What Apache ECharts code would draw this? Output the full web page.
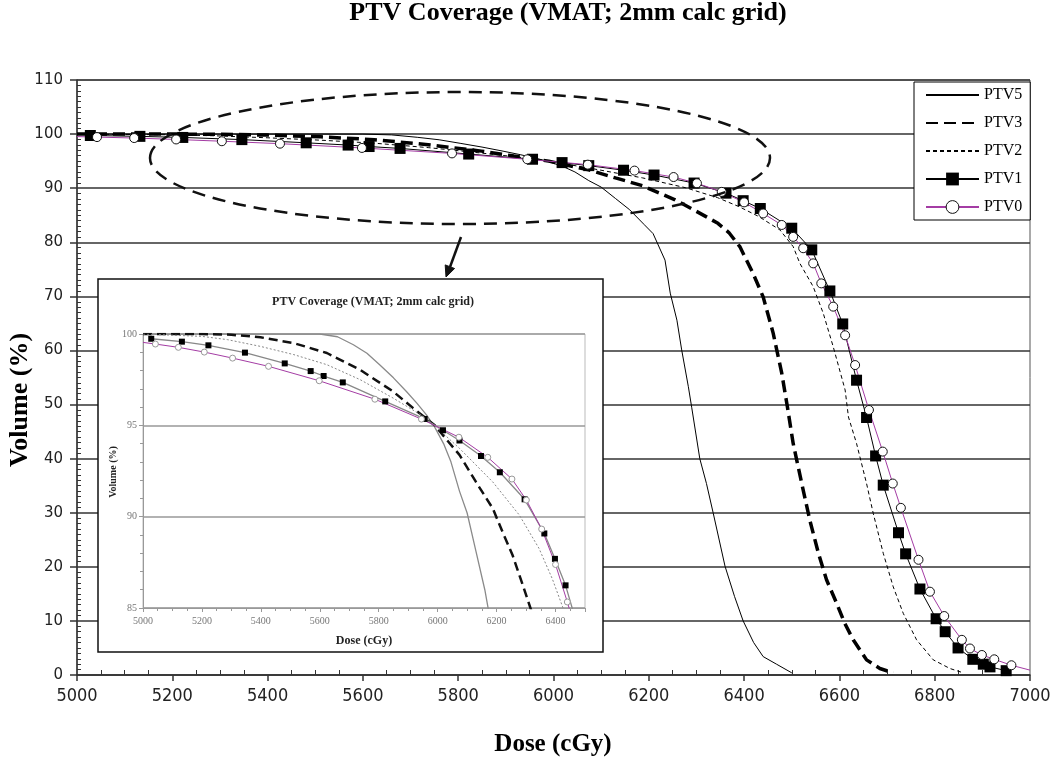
<!DOCTYPE html>
<html>
<head>
<meta charset="utf-8">
<script src="https://cdn.jsdelivr.net/npm/echarts@6/dist/echarts.min.js"></script>
<style>html,body{margin:0;padding:0;background:#fff}#c{width:1050px;height:759px}</style>
</head>
<body>
<div id="c"></div>
<script>
// ---------- data ----------
const xTicks = [5000, 5200, 5400, 5600, 5800, 6000, 6200, 6400, 6600, 6800, 7000];
const yTicks = [0, 10, 20, 30, 40, 50, 60, 70, 80, 90, 100, 110];
const insetXTicks = [5000, 5200, 5400, 5600, 5800, 6000, 6200, 6400];
const insetYTicks = [85, 90, 95, 100];
const seriesNames = ['PTV5', 'PTV3', 'PTV2', 'PTV1', 'PTV0'];

const ptv5Dose = [5000, 5300, 5600, 5660, 5714, 5760, 5804, 5850, 5894, 5930, 5962, 5990, 6020, 6045, 6074, 6100, 6130, 6160, 6190, 6209, 6234, 6245, 6259, 6269, 6283, 6290, 6307, 6321, 6335, 6360, 6380, 6398, 6420, 6440, 6468, 6500];
const ptv5Vol  = [100, 100, 100, 99.85, 99.41, 98.95, 98.3, 97.6, 96.85, 96.2, 95.57, 94.9, 94.0, 93.0, 91.4, 90.2, 88.1, 86.0, 83.3, 81.6, 76.7, 70.6, 65.6, 60.1, 53.3, 49.5, 40.0, 35.4, 30.0, 20.1, 14.5, 10.0, 6.0, 3.4, 2.0, 0.4];

const ptv3Dose = [5000, 5200, 5300, 5399, 5512, 5624, 5737, 5849, 5917, 5990, 6074, 6130, 6187, 6220, 6254, 6290, 6321, 6345, 6368, 6391, 6419, 6440, 6461, 6479, 6491, 6503, 6521, 6538, 6556, 6573, 6594, 6611, 6629, 6657, 6685, 6713];
const ptv3Vol  = [100, 100, 99.96, 99.82, 99.5, 98.96, 98.04, 96.85, 95.94, 95.0, 93.38, 91.9, 90.45, 89.17, 87.9, 86.2, 84.7, 83.5, 81.8, 79.2, 74.2, 69.9, 63.2, 55.8, 49.5, 42.8, 35.4, 28.6, 22.5, 17.6, 13.3, 9.6, 6.5, 2.8, 1.2, 0.4];

const ptv2Dose = [5000, 5200, 5287, 5399, 5512, 5624, 5737, 5849, 5962, 6074, 6187, 6277, 6344, 6389, 6430, 6475, 6503, 6517, 6545, 6566, 6587, 6612, 6619, 6636, 6657, 6671, 6692, 6713, 6734, 6762, 6797, 6832, 6860];
const ptv2Vol  = [100, 99.87, 99.69, 99.32, 98.87, 98.32, 97.5, 96.49, 95.39, 93.74, 91.9, 90.09, 88.26, 86.6, 84.8, 82.3, 79.2, 76.1, 71.8, 66.9, 60.7, 52.7, 47.7, 42.8, 35.4, 29.9, 22.5, 16.3, 11.4, 6.5, 2.8, 1.2, 0.4];

const ptv1Dose = [5028, 5132, 5222, 5346, 5481, 5569, 5613, 5678, 5822, 5956, 6018, 6074, 6147, 6211, 6295, 6362, 6398, 6434, 6500, 6542, 6580, 6607, 6636, 6657, 6676, 6692, 6724, 6739, 6769, 6803, 6822, 6849, 6880, 6902, 6916, 6950];
const ptv1Vol  = [99.74, 99.58, 99.38, 98.98, 98.39, 97.97, 97.70, 97.35, 96.31, 95.35, 94.73, 94.17, 93.32, 92.43, 90.95, 89.08, 87.69, 86.24, 82.6, 78.6, 71.0, 64.9, 54.5, 47.6, 40.5, 35.1, 26.3, 22.4, 15.9, 10.4, 8.0, 5.0, 2.9, 2.0, 1.5, 0.8];

const ptv0Dose = [5000, 5042, 5120, 5208, 5304, 5426, 5598, 5787, 5945, 6072, 6170, 6252, 6301, 6353, 6400, 6440, 6479, 6503, 6524, 6545, 6562, 6587, 6612, 6633, 6662, 6691, 6712, 6729, 6766, 6790, 6820, 6857, 6874, 6899, 6925, 6961, 7000];
const ptv0Vol  = [99.54, 99.45, 99.27, 99.01, 98.68, 98.23, 97.44, 96.43, 95.34, 94.35, 93.25, 92.06, 90.91, 89.32, 87.38, 85.33, 83.2, 81.0, 78.9, 76.1, 72.4, 68.1, 62.8, 57.3, 49.0, 41.3, 35.4, 30.9, 21.3, 15.4, 10.9, 6.5, 4.9, 3.7, 2.9, 1.8, 0.9];

// ---------- build ----------
const X_MIN = xTicks[0], X_MAX = xTicks[xTicks.length - 1];
function pts(d, v, bareEnds) {
  return d.map((x, i) => {
    const p = { value: [x, v[i]] };
    if (bareEnds && (x <= X_MIN || x >= X_MAX)) p.symbol = 'none';
    return p;
  });
}
const serif = 'Liberation Serif';
const narrow = "'Liberation Sans Narrow', 'DejaVu Sans Condensed', 'Liberation Sans', sans-serif";
const PURPLE = '#a43ca4';

const mainSeries = [
  { name: 'PTV5', data: pts(ptv5Dose, ptv5Vol), symbol: 'none',
    lineStyle: { color: '#000', width: 1 }, itemStyle: { color: '#000' } },
  { name: 'PTV3', data: pts(ptv3Dose, ptv3Vol), symbol: 'none',
    lineStyle: { color: '#000', width: 3.5, type: [12, 6] }, itemStyle: { color: '#000' } },
  { name: 'PTV2', data: pts(ptv2Dose, ptv2Vol), symbol: 'none',
    lineStyle: { color: '#000', width: 1, type: [4, 3] }, itemStyle: { color: '#000' } },
  { name: 'PTV1', data: pts(ptv1Dose, ptv1Vol), symbol: 'rect', symbolSize: 11,
    lineStyle: { color: '#000', width: 1 }, itemStyle: { color: '#000' } },
  { name: 'PTV0', data: pts(ptv0Dose, ptv0Vol, true), symbol: 'circle', symbolSize: 9,
    lineStyle: { color: PURPLE, width: 1 }, itemStyle: { color: '#fff', borderColor: '#111', borderWidth: 1 } }
].map(s => Object.assign({ type: 'line', xAxisIndex: 0, yAxisIndex: 0, z: 3, clip: true }, s));

const insetSeries = [
  { name: 'PTV5', data: pts(ptv5Dose, ptv5Vol), symbol: 'none',
    lineStyle: { color: '#8a8a8a', width: 1.3 } },
  { name: 'PTV3', data: pts(ptv3Dose, ptv3Vol), symbol: 'none',
    lineStyle: { color: '#111', width: 2.5, type: [9, 5] } },
  { name: 'PTV2', data: pts(ptv2Dose, ptv2Vol), symbol: 'none',
    lineStyle: { color: '#888', width: 1, type: [2, 2] } },
  { name: 'PTV1', data: pts(ptv1Dose, ptv1Vol), symbol: 'rect', symbolSize: 6,
    lineStyle: { color: '#888', width: 1.3 }, itemStyle: { color: '#000' } },
  { name: 'PTV0', data: pts(ptv0Dose, ptv0Vol, true), symbol: 'circle', symbolSize: 6,
    lineStyle: { color: PURPLE, width: 1 }, itemStyle: { color: '#fff', borderColor: '#999', borderWidth: 1 } }
].map(s => Object.assign({ type: 'line', xAxisIndex: 1, yAxisIndex: 1, z: 8, clip: true, legendHoverLink: false }, s));

const legendData = seriesNames.map(n => {
  if (n === 'PTV1') return { name: n, itemStyle: { color: '#000' } };
  if (n === 'PTV0') return { name: n, itemStyle: { color: '#fff', borderColor: '#111', borderWidth: 1 } };
  return { name: n, itemStyle: { opacity: 0 } };
});

const option = {
  animation: false,
  backgroundColor: '#fff',
  legend: {
    orient: 'vertical', left: 914, top: 82,
    itemWidth: 53, itemHeight: 16, itemGap: 12, itemTextGap: 3,
    padding: [5, 8, 5, 11],
    borderColor: '#000', borderWidth: 1, backgroundColor: '#fff',
    textStyle: { fontFamily: serif, fontSize: 16, color: '#000', lineHeight: 16 },
    data: legendData, z: 12
  },
  grid: [
    { left: 77, right: 20, top: 80, bottom: 84, show: true, borderColor: '#555', borderWidth: 1,
      backgroundColor: 'transparent', outerBoundsMode: 'none', containLabel: false },
    { left: 143, right: 465, top: 334, bottom: 151, show: true, borderColor: '#bbb', borderWidth: 1,
      backgroundColor: 'transparent', z: 6, outerBoundsMode: 'none', containLabel: false }
  ],
  xAxis: [
    { type: 'value', gridIndex: 0, min: X_MIN, max: X_MAX, interval: xTicks[1] - xTicks[0],
      axisLine: { onZero: false, lineStyle: { color: '#333', width: 1.5 } },
      axisTick: { length: 6, lineStyle: { color: '#333', width: 1.5 } },
      minorTick: { show: true, splitNumber: 4, length: -5, lineStyle: { color: '#333', width: 1 } },
      axisLabel: { fontFamily: narrow, fontSize: 18, color: '#222', margin: 12,
        formatter: v => xTicks.includes(v) ? String(v) : '' },
      splitLine: { show: false } },
    { type: 'value', gridIndex: 1, min: insetXTicks[0], max: 6500, interval: insetXTicks[1] - insetXTicks[0], z: 7,
      axisLine: { onZero: false, lineStyle: { color: '#999', width: 1 } },
      axisTick: { length: 4, lineStyle: { color: '#999' } },
      minorTick: { show: true, splitNumber: 4, length: 3, lineStyle: { color: '#999' } },
      axisLabel: { fontFamily: serif, fontSize: 10, color: '#777', margin: 8, showMaxLabel: false,
        formatter: v => insetXTicks.includes(v) ? String(v) : '' },
      splitLine: { show: false } }
  ],
  yAxis: [
    { type: 'value', gridIndex: 0, min: yTicks[0], max: yTicks[yTicks.length - 1], interval: yTicks[1] - yTicks[0],
      axisLine: { show: true, onZero: false, lineStyle: { color: '#333', width: 1.5 } },
      axisTick: { show: true, length: 7, lineStyle: { color: '#333', width: 1.5 } },
      minorTick: { show: true, splitNumber: 10, length: -4, lineStyle: { color: '#333', width: 1 } },
      axisLabel: { fontFamily: 'DejaVu Sans', fontSize: 15, color: '#222', margin: 14,
        formatter: v => String(v) },
      splitLine: { show: true, lineStyle: { color: '#333', width: 1.5 } } },
    { type: 'value', gridIndex: 1, min: insetYTicks[0], max: insetYTicks[insetYTicks.length - 1], interval: insetYTicks[1] - insetYTicks[0], z: 7,
      axisLine: { show: true, onZero: false, lineStyle: { color: '#999', width: 1 } },
      axisTick: { show: true, length: 4, lineStyle: { color: '#999' } },
      minorTick: { show: true, splitNumber: 5, length: 3, lineStyle: { color: '#999' } },
      axisLabel: { fontFamily: serif, fontSize: 10, color: '#777', margin: 6, formatter: v => String(v) },
      splitLine: { show: true, lineStyle: { color: '#999', width: 1.5 } } }
  ],
  graphic: [
    { type: 'text', z: 20, style: { x: 568, y: 13, text: 'PTV Coverage (VMAT; 2mm calc grid)', fill: '#000',
      font: 'bold 26px "Liberation Serif"', textAlign: 'center', textVerticalAlign: 'middle' } },
    { type: 'text', z: 20, x: 20, y: 400, rotation: Math.PI / 2, style: { x: 0, y: 0, text: 'Volume (%)', fill: '#000',
      font: 'bold 26px "Liberation Serif"', textAlign: 'center', textVerticalAlign: 'middle' } },
    { type: 'text', z: 20, style: { x: 553, y: 745, text: 'Dose (cGy)', fill: '#000',
      font: 'bold 25px "Liberation Serif"', textAlign: 'center', textVerticalAlign: 'middle' } },
    // inset frame
    { type: 'rect', z: 4, shape: { x: 98, y: 279, width: 505, height: 373 },
      style: { fill: '#fff', stroke: '#111', lineWidth: 1.5 } },
    { type: 'text', z: 20, style: { x: 373, y: 302, text: 'PTV Coverage (VMAT; 2mm calc grid)', fill: '#222',
      font: 'bold 12px "Liberation Serif"', textAlign: 'center', textVerticalAlign: 'middle' } },
    { type: 'text', z: 20, x: 113, y: 472, rotation: Math.PI / 2, style: { x: 0, y: 0, text: 'Volume (%)', fill: '#222',
      font: 'bold 10px "Liberation Serif"', textAlign: 'center', textVerticalAlign: 'middle' } },
    { type: 'text', z: 20, style: { x: 364, y: 641, text: 'Dose (cGy)', fill: '#222',
      font: 'bold 12px "Liberation Serif"', textAlign: 'center', textVerticalAlign: 'middle' } },
    // annotation ellipse + arrow
    { type: 'ellipse', z: 15, shape: { cx: 460, cy: 158, rx: 310, ry: 66 },
      style: { fill: 'none', stroke: '#111', lineWidth: 2.5, lineDash: [13, 8] } },
    { type: 'line', z: 15, shape: { x1: 461, y1: 237, x2: 450, y2: 267 },
      style: { stroke: '#111', lineWidth: 2.5 } },
    { type: 'polygon', z: 15, shape: { points: [[446, 277], [454.6, 268.5], [445.2, 264.9]] },
      style: { fill: '#111', stroke: '#111', lineWidth: 1 } }
  ],
  series: mainSeries.concat(insetSeries)
};

const chart = echarts.init(document.getElementById('c'), null, { renderer: 'canvas' });
chart.setOption(option);
</script>
</body>
</html>
